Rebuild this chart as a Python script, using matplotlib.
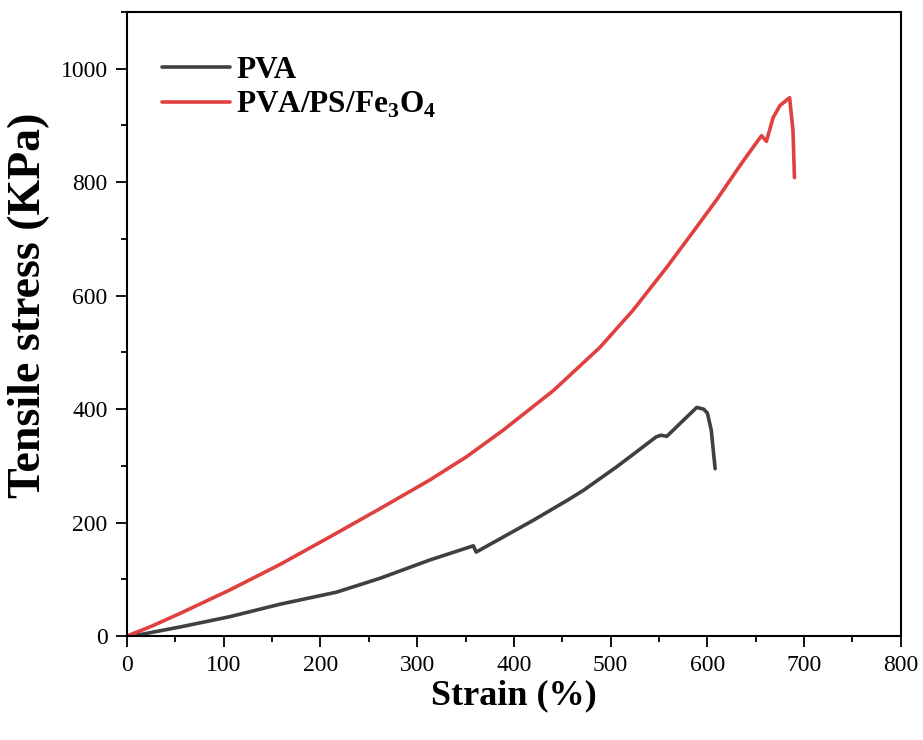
import matplotlib
matplotlib.use("Agg")
import matplotlib.pyplot as plt
from matplotlib.ticker import MultipleLocator

# Data
pva_strain = [0, 15, 55, 106, 158, 213, 216, 262, 313, 358, 361, 420, 455, 472,
              506, 520, 547, 552, 558, 575, 589, 596, 600, 604, 608]
pva_stress = [0, 3, 16, 34, 56, 76, 77, 102, 134, 159, 148, 204, 239, 257,
              298, 316, 351, 354, 352, 380, 403, 400, 393, 363, 295]

comp_strain = [0, 25, 55, 106, 158, 210, 261, 313, 351, 389, 441, 489, 523, 558,
               585, 610, 634, 650, 656, 661, 668, 675, 685, 688.5, 690]
comp_stress = [0, 17, 40, 81, 126, 175, 224, 275, 316, 363, 433, 509, 574, 650,
               712, 770, 830, 868, 882, 872, 914, 935, 949, 891, 808]

labels = ["PVA", r"PVA/PS/Fe$_\mathbf{3}$O$_\mathbf{4}$"]
colors = ["#404040", "#e04040"]

plt.rcParams['font.family'] = ['Liberation Serif', 'DejaVu Serif']
plt.rcParams['mathtext.fontset'] = 'custom'
plt.rcParams['mathtext.rm'] = 'Liberation Serif'
plt.rcParams['mathtext.bf'] = 'Liberation Serif:bold'

fig = plt.figure(figsize=(9.23, 7.40), dpi=100)
ax = fig.add_axes([0.1376, 0.1405, 0.976 - 0.1376, 0.9838 - 0.1405])

ax.plot(pva_strain, pva_stress, color=colors[0], lw=2.6, label=labels[0],
        solid_joinstyle='round', solid_capstyle='round')
ax.plot(comp_strain, comp_stress, color=colors[1], lw=2.6, label=labels[1],
        solid_joinstyle='round', solid_capstyle='round')

ax.set_xlim(0, 800)
ax.set_ylim(0, 1100)
ax.xaxis.set_major_locator(MultipleLocator(100))
ax.xaxis.set_minor_locator(MultipleLocator(50))
ax.yaxis.set_major_locator(MultipleLocator(200))
ax.yaxis.set_minor_locator(MultipleLocator(100))
ax.tick_params(which='major', direction='out', length=8, width=1.3, labelsize=17, pad=6)
ax.tick_params(which='minor', direction='out', length=4, width=1.3)
for s in ax.spines.values():
    s.set_linewidth(1.5)

ax.set_xlabel("Strain (%)", fontsize=26, fontweight='bold', labelpad=2)
ax.set_ylabel("Tensile stress (KPa)", fontsize=33, fontweight='bold')
ax.yaxis.set_label_coords(-0.1, 0.53)

leg = ax.legend(loc='upper left', bbox_to_anchor=(0.045, 0.929), frameon=False,
                prop={'weight': 'bold', 'size': 22.5}, handlelength=2.18,
                handletextpad=0.2, labelspacing=0.16, borderpad=0, borderaxespad=0)

fig.savefig("out.png", dpi=100)
